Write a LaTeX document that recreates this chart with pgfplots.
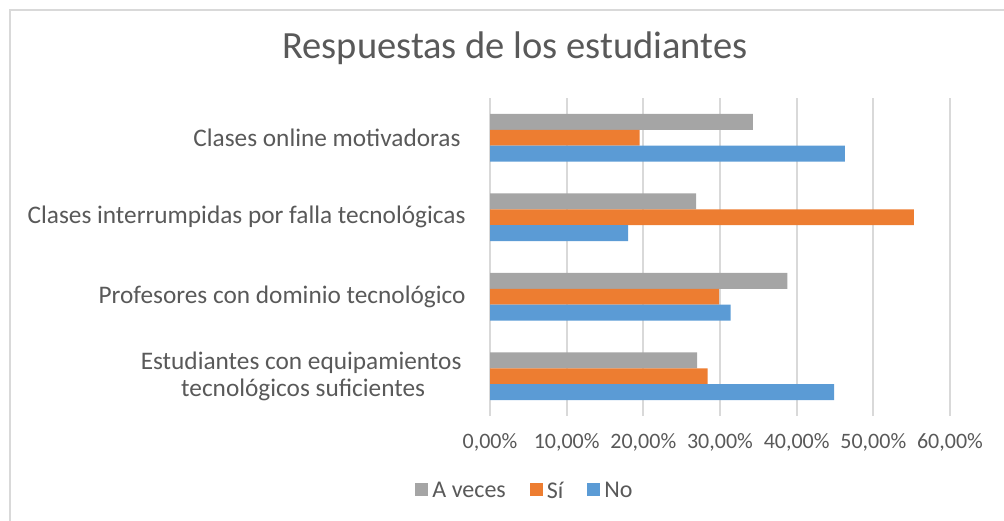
\documentclass[border=0pt]{standalone}
\usepackage{pgfplots}
\pgfplotsset{compat=1.18}
\usepackage{fontspec}
\setmainfont{Carlito}
\definecolor{cGray}{RGB}{165,165,165}
\definecolor{cOrange}{RGB}{237,125,49}
\definecolor{cBlue}{RGB}{91,155,213}
\definecolor{cText}{RGB}{89,89,89}
\definecolor{cGrid}{RGB}{217,217,217}
\begin{document}
\begin{tikzpicture}[x=1pt,y=1pt]
\path[use as bounding box] (0,0) rectangle (1004,521);
\draw[cGrid, line width=1.5pt] (10,0) -- (10,511) -- (1004,511);
\node[text=cText, font=\fontsize{38.5}{44}\selectfont] at (515,473) {Respuestas de los estudiantes};
\begin{axis}[
  at={(490pt,105pt)}, anchor=south west,
  scale only axis, width=460pt, height=318pt,
  xbar, bar width=0.2,
  xmin=0, xmax=60, ymin=-0.5, ymax=3.5,
  xtick={0,10,20,30,40,50,60},
  xticklabels={{0,00\%},{10,00\%},{20,00\%},{30,00\%},{40,00\%},{50,00\%},{60,00\%}},
  ytick={0,1,2,3},
  yticklabels={{Estudiantes con equipamientos\hspace*{4pt}\\tecnológicos suficientes},{Profesores con dominio tecnológico},{Clases interrumpidas por falla tecnológicas},{Clases online motivadoras\hspace*{5pt}}},
  yticklabel style={align=center, font=\fontsize{25.3}{27}\selectfont, text=cText},
  xticklabel style={font=\fontsize{22}{26}\selectfont, text=cText},
  ytick style={draw=none}, xtick style={draw=none},
  axis line style={draw=none},
  xmajorgrids, major grid style={cGrid, line width=2pt},
  tick label style={inner sep=0pt},
  xticklabel shift=17pt, yticklabel shift=20pt,
  legend style={at={(0.076,-0.236)}, anchor=center, draw=none, fill=none, legend columns=-1,
    font=\fontsize{24}{28}\selectfont, text=cText,
    /tikz/every odd column/.append style={column sep=2pt},
    /tikz/every even column/.append style={column sep=22pt}},
  legend image code/.code={\fill[#1] (0pt,-5pt) rectangle (13pt,8pt);},
]
\addplot[fill=cGray, draw=none, bar shift=0.2] coordinates {(27.0,0) (38.8,1) (26.9,2) (34.3,3)};
\addplot[fill=cOrange, draw=none, bar shift=0] coordinates {(28.4,0) (29.9,1) (55.3,2) (19.5,3)};
\addplot[fill=cBlue, draw=none, bar shift=-0.2] coordinates {(44.9,0) (31.4,1) (18.0,2) (46.3,3)};
\legend{A veces, Sí, No}
\end{axis}
\end{tikzpicture}
\end{document}
